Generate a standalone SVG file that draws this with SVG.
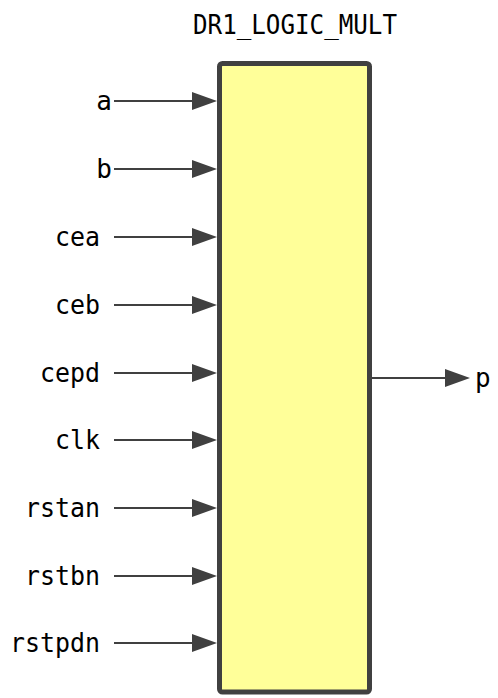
<svg xmlns="http://www.w3.org/2000/svg" width="498" height="698" viewBox="0 0 498 698">
<style>
.lbl{font-family:"DejaVu Sans Mono","Liberation Mono",monospace;font-size:26px;fill:#000}
.wire{stroke:#404040;stroke-width:2;fill:none}
.head{fill:#404040}
</style>
<rect width="498" height="698" fill="#fff"/>
<g id="title"><text class="lbl" x="295" y="34" text-anchor="middle" textLength="204" lengthAdjust="spacingAndGlyphs">DR1_LOGIC_MULT</text></g>
<g id="block"><rect x="219.5" y="63.5" width="150" height="628.5" rx="3" fill="#ffff99" stroke="#404040" stroke-width="5"/></g>
<g id="connectors">
<line class="wire" x1="114" y1="101" x2="195" y2="101"/><polygon class="head" points="192,92 217,101 192,110"/>
<line class="wire" x1="114" y1="169" x2="195" y2="169"/><polygon class="head" points="192,160 217,169 192,178"/>
<line class="wire" x1="114" y1="237" x2="195" y2="237"/><polygon class="head" points="192,228 217,237 192,246"/>
<line class="wire" x1="114" y1="305" x2="195" y2="305"/><polygon class="head" points="192,296 217,305 192,314"/>
<line class="wire" x1="114" y1="373" x2="195" y2="373"/><polygon class="head" points="192,364 217,373 192,382"/>
<line class="wire" x1="114" y1="440" x2="195" y2="440"/><polygon class="head" points="192,431 217,440 192,449"/>
<line class="wire" x1="114" y1="508" x2="195" y2="508"/><polygon class="head" points="192,499 217,508 192,517"/>
<line class="wire" x1="114" y1="576" x2="195" y2="576"/><polygon class="head" points="192,567 217,576 192,585"/>
<line class="wire" x1="114" y1="643" x2="195" y2="643"/><polygon class="head" points="192,634 217,643 192,652"/>
<line class="wire" x1="372" y1="378" x2="448" y2="378"/><polygon class="head" points="445,369 470,378 445,387"/>
</g>
<g id="pin-a"><text class="lbl" x="112" y="110" text-anchor="end">a</text></g>
<g id="pin-b"><text class="lbl" x="112" y="178" text-anchor="end">b</text></g>
<g id="pin-cea"><text class="lbl" x="100" y="246" text-anchor="end" textLength="45" lengthAdjust="spacingAndGlyphs">cea</text></g>
<g id="pin-ceb"><text class="lbl" x="100" y="314" text-anchor="end" textLength="45" lengthAdjust="spacingAndGlyphs">ceb</text></g>
<g id="pin-cepd"><text class="lbl" x="100" y="382" text-anchor="end" textLength="60" lengthAdjust="spacingAndGlyphs">cepd</text></g>
<g id="pin-clk"><text class="lbl" x="100" y="449" text-anchor="end" textLength="45" lengthAdjust="spacingAndGlyphs">clk</text></g>
<g id="pin-rstan"><text class="lbl" x="100" y="517" text-anchor="end" textLength="75" lengthAdjust="spacingAndGlyphs">rstan</text></g>
<g id="pin-rstbn"><text class="lbl" x="100" y="585" text-anchor="end" textLength="75" lengthAdjust="spacingAndGlyphs">rstbn</text></g>
<g id="pin-rstpdn"><text class="lbl" x="100" y="652" text-anchor="end" textLength="90" lengthAdjust="spacingAndGlyphs">rstpdn</text></g>
<g id="pin-p"><text class="lbl" x="475" y="387">p</text></g>
</svg>
